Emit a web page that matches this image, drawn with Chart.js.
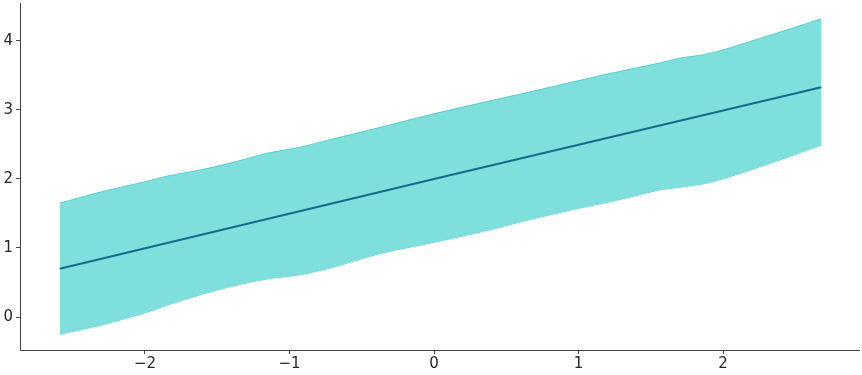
<!DOCTYPE html>
<html>
<head>
<meta charset="utf-8">
<script src="https://cdn.jsdelivr.net/npm/chart.js@4/dist/chart.umd.min.js"></script>
<style>
  html, body { margin: 0; padding: 0; background: #fff; }
  #wrap { width: 862px; height: 375px; }
</style>
</head>
<body>
<div id="wrap"><canvas id="chart"></canvas></div>
<script>
// band (interval)
const bandX = [-2.59, -2.31, -2.0, -1.85, -1.62, -1.41, -1.16, -0.93, -0.72, -0.37, -0.03, 0.32, 0.66, 1.01, 1.22, 1.56, 1.70, 1.91, 2.26, 2.68];
const upper = [1.65, 1.81, 1.96, 2.04, 2.13, 2.23, 2.37, 2.46, 2.57, 2.75, 2.93, 3.10, 3.26, 3.43, 3.53, 3.68, 3.75, 3.82, 4.04, 4.32];
const lower = [-0.25, -0.12, 0.06, 0.17, 0.32, 0.44, 0.55, 0.61, 0.71, 0.92, 1.07, 1.23, 1.41, 1.58, 1.67, 1.84, 1.88, 1.95, 2.18, 2.49];

// mean line
const lineX = [-2.59, 0.0, 2.68];
const lineY = [0.70, 2.00, 3.33];

const xTicks = [-2, -1, 0, 1, 2];
const yTicks = [0, 1, 2, 3, 4];

const pts = (xs, ys) => xs.map((x, i) => ({ x: x, y: ys[i] }));
const minus = v => v < 0 ? '\u2212' + Math.abs(v) : String(v);

const axisColor = '#444';
const tickFont = { family: 'DejaVu Sans', size: 15 };

const ctx = document.getElementById('chart').getContext('2d');
new Chart(ctx, {
  type: 'line',
  data: {
    datasets: [
      {
        label: 'upper',
        data: pts(bandX, upper),
        borderColor: 'rgba(80, 205, 205, 0.9)',
        borderWidth: 1,
        backgroundColor: 'rgb(126, 223, 221)',
        fill: '+1',
        pointRadius: 0,
        tension: 0.3,
        order: 2
      },
      {
        label: 'lower',
        data: pts(bandX, lower),
        borderColor: 'rgba(80, 205, 205, 0.9)',
        borderWidth: 1,
        fill: false,
        pointRadius: 0,
        tension: 0.3,
        order: 2
      },
      {
        label: 'mean',
        data: pts(lineX, lineY),
        borderColor: '#17698c',
        borderWidth: 2,
        fill: false,
        pointRadius: 0,
        order: 1
      }
    ]
  },
  options: {
    responsive: true,
    maintainAspectRatio: false,
    animation: false,
    layout: { padding: { top: 3, right: 3, left: 0, bottom: 0 } },
    plugins: {
      legend: { display: false },
      tooltip: { enabled: false }
    },
    scales: {
      x: {
        type: 'linear',
        min: -2.865,
        max: 2.941,
        afterBuildTicks: axis => { axis.ticks = xTicks.map(v => ({ value: v })); },
        afterFit: axis => { axis.height = 25; axis.paddingLeft = 0; axis.paddingRight = 0; },
        grid: { display: true, drawOnChartArea: false, drawTicks: true, tickLength: 4, color: axisColor },
        border: { display: true, color: axisColor, width: 1 },
        ticks: { color: '#262626', font: tickFont, padding: 1, maxRotation: 0, callback: v => minus(v) }
      },
      y: {
        type: 'linear',
        min: -0.478,
        max: 4.55,
        afterBuildTicks: axis => { axis.ticks = yTicks.map(v => ({ value: v })); },
        afterFit: axis => { axis.width = 20; axis.paddingTop = 0; axis.paddingBottom = 0; },
        grid: { display: true, drawOnChartArea: false, drawTicks: true, tickLength: 4, color: axisColor },
        border: { display: true, color: axisColor, width: 1 },
        ticks: { color: '#262626', font: tickFont, padding: 3, callback: v => minus(v) }
      }
    }
  }
});
</script>
</body>
</html>
